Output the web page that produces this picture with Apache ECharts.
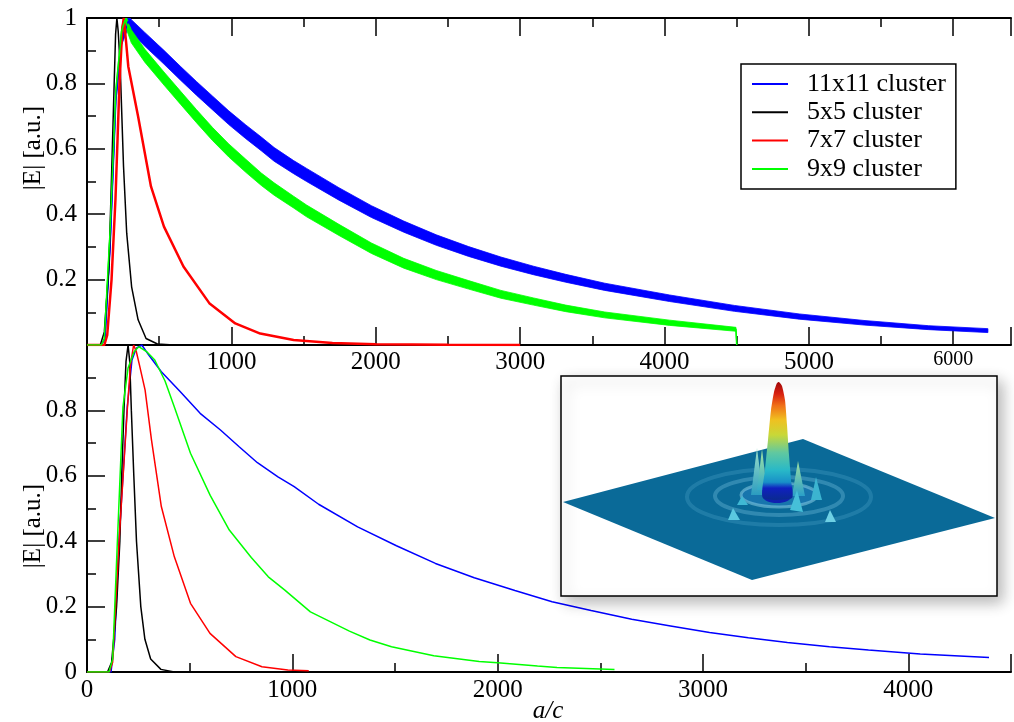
<!DOCTYPE html>
<html>
<head>
<meta charset="utf-8">
<script src="https://cdn.jsdelivr.net/npm/echarts@6/dist/echarts.min.js"></script>
<style>html,body{margin:0;padding:0;background:#fff;}#c{width:1014px;height:722px;}</style>
</head>
<body>
<div id="c"></div>
<script>
// ---------- data ----------
const seriesNames = ['11x11 cluster', '5x5 cluster', '7x7 cluster', '9x9 cluster'];
const topXTicks = [1000, 2000, 3000, 4000, 5000, 6000];
const bottomXTicks = [0, 1000, 2000, 3000, 4000];

// top panel (long runs, oscillating bands: centre value and half-height of the ripple)
const blueTopX = [0, 100, 125, 160, 200, 240, 286, 307, 400, 533, 650, 758, 870, 982, 1100, 1207, 1296, 1431, 1521, 1745, 1970, 2194, 2419, 2643, 2867, 3092, 3316, 3586, 4035, 4484, 4933, 5382, 5830, 6240];
const blueTopY = [0, 0, 0.02, 0.3, 0.75, 0.93, 0.99, 0.975, 0.935, 0.88, 0.83, 0.785, 0.74, 0.695, 0.652, 0.615, 0.583, 0.544, 0.52, 0.462, 0.408, 0.362, 0.321, 0.286, 0.255, 0.228, 0.204, 0.178, 0.143, 0.112, 0.087, 0.068, 0.053, 0.044];
const blueTopRipple = [0, 0, 0, 0, 0.005, 0.012, 0.018, 0.02, 0.021, 0.021, 0.021, 0.021, 0.021, 0.021, 0.021, 0.021, 0.021, 0.02, 0.02, 0.019, 0.018, 0.017, 0.016, 0.015, 0.014, 0.013, 0.012, 0.011, 0.01, 0.009, 0.008, 0.007, 0.006, 0.006];

const greenTopX = [0, 100, 120, 160, 200, 240, 264, 307, 400, 533, 650, 758, 870, 982, 1100, 1207, 1296, 1431, 1521, 1745, 1970, 2194, 2419, 2643, 2867, 3092, 3316, 3586, 4035, 4495, 4500];
const greenTopY = [0, 0, 0.02, 0.35, 0.78, 0.96, 0.995, 0.944, 0.885, 0.815, 0.755, 0.7, 0.645, 0.595, 0.548, 0.507, 0.477, 0.437, 0.41, 0.352, 0.296, 0.25, 0.214, 0.184, 0.155, 0.133, 0.112, 0.092, 0.068, 0.048, 0];
const greenTopRipple = [0, 0, 0, 0, 0.005, 0.012, 0.018, 0.02, 0.02, 0.02, 0.02, 0.02, 0.02, 0.02, 0.02, 0.019, 0.019, 0.018, 0.018, 0.017, 0.016, 0.015, 0.014, 0.013, 0.012, 0.011, 0.01, 0.009, 0.008, 0.006, 0];

const redTopX = [0, 120, 140, 170, 197, 225, 245, 255, 270, 286, 354, 443, 533, 668, 847, 1027, 1200, 1431, 1700, 2000, 2500, 3000];
const redTopY = [0, 0, 0.03, 0.2, 0.444, 0.8, 0.97, 1.0, 0.93, 0.852, 0.699, 0.485, 0.362, 0.24, 0.128, 0.066, 0.035, 0.015, 0.006, 0.002, 0.0005, 0];

const blackTopX = [0, 92, 120, 152, 185, 198, 207, 216, 230, 253, 275, 309, 354, 409, 488, 600];
const blackTopY = [0, 0, 0.04, 0.24, 0.75, 0.95, 1.0, 0.96, 0.852, 0.546, 0.342, 0.178, 0.077, 0.02, 0.003, 0];

// bottom panel (smooth envelopes)
const blueBotX = [0, 117, 135, 156, 196, 219, 240, 267, 300, 362, 450, 551, 650, 741, 830, 930, 1009, 1128, 1318, 1507, 1697, 1886, 2084, 2265, 2455, 2653, 2842, 3032, 3221, 3411, 3616, 3806, 4058, 4393];
const blueBotY = [0, 0, 0.1, 0.404, 0.81, 0.954, 0.99, 1.0, 0.97, 0.918, 0.86, 0.791, 0.74, 0.689, 0.64, 0.597, 0.567, 0.513, 0.444, 0.386, 0.332, 0.288, 0.249, 0.215, 0.188, 0.161, 0.141, 0.121, 0.105, 0.09, 0.077, 0.067, 0.055, 0.044];

const blackBotX = [0, 100, 120, 144, 160, 169, 180, 190, 200, 208, 216, 228, 241, 262, 282, 310, 360, 425, 500];
const blackBotY = [0, 0, 0.03, 0.2, 0.4, 0.6, 0.8, 0.95, 1.0, 0.95, 0.8, 0.6, 0.4, 0.2, 0.1, 0.04, 0.008, 0, 0];

const redBotX = [0, 109, 125, 156, 196, 212, 227, 240, 255, 283, 314, 362, 425, 504, 599, 725, 852, 978, 1080];
const redBotY = [0, 0, 0.03, 0.4, 0.8, 0.94, 1.0, 0.98, 0.94, 0.862, 0.71, 0.506, 0.353, 0.21, 0.118, 0.047, 0.016, 0.006, 0.004];

const greenBotX = [0, 107, 125, 148, 175, 200, 230, 252, 290, 330, 380, 425, 504, 600, 693, 800, 883, 962, 1088, 1278, 1378, 1483, 1689, 1910, 2000, 2194, 2289, 2569];
const greenBotY = [0, 0, 0.04, 0.4, 0.81, 0.93, 0.98, 0.995, 0.98, 0.954, 0.89, 0.811, 0.669, 0.54, 0.434, 0.35, 0.291, 0.251, 0.184, 0.125, 0.098, 0.077, 0.05, 0.032, 0.028, 0.018, 0.014, 0.008];

// ---------- build ----------
const BLUE = '#0000ff', BLACK = '#000000', RED = '#ff0000', GREEN = '#00ff00';
const FONT = '"Liberation Serif", "DejaVu Serif", serif';
const pairs = (xs, ys) => xs.map((x, i) => [x, ys[i]]);

function line(name, data, color, w, xi, yi) {
  return {
    name: name, type: 'line', data: data, xAxisIndex: xi, yAxisIndex: yi,
    symbol: 'none', showSymbol: false, silent: true, animation: false,
    color: color, lineStyle: { color: color, width: w }, z: 3
  };
}
// ripple band drawn through the axes' own coordinate mapping
function band(key, xs, ys, rs, color, xi, yi) {
  return {
    name: key, type: 'custom', xAxisIndex: xi, yAxisIndex: yi, silent: true, clip: true, z: 2,
    data: [[xs[0], ys[0]]],
    renderItem: function (params, api) {
      const pts = [];
      for (let i = 0; i < xs.length; i++) pts.push(api.coord([xs[i], Math.min(1.02, ys[i] + rs[i])]));
      for (let i = xs.length - 1; i >= 0; i--) pts.push(api.coord([xs[i], Math.max(0, ys[i] - rs[i])]));
      return { type: 'polygon', shape: { points: pts }, style: { fill: color, stroke: color, lineWidth: 0.8 } };
    }
  };
}

const axisCommon = {
  type: 'value', min: 0,
  axisLine: { show: true, lineStyle: { color: '#000', width: 2 } },
  axisTick: { show: true, inside: true, length: 18, lineStyle: { color: '#000', width: 1.5 } },
  minorTick: { show: true, splitNumber: 2, length: 9, lineStyle: { color: '#000', width: 1.5 } },
  splitLine: { show: false }, minorSplitLine: { show: false }
};
const labelStyle = { color: '#000', fontFamily: FONT, fontSize: 25 };

const option = {
  backgroundColor: '#fff',
  animation: false,
  grid: [
    { left: 87, top: 18, width: 950.4, height: 327, containLabel: false },
    { left: 87, top: 345, width: 949.5, height: 327, containLabel: false }
  ],
  xAxis: [
    Object.assign({}, axisCommon, {
      gridIndex: 0, position: 'bottom', max: 6400, interval: 1000,
      axisLabel: Object.assign({}, labelStyle, {
        margin: 5,
        formatter: v => (topXTicks.indexOf(v) < 0 ? '' : (v === 6000 ? '{s|6000}' : String(v))),
        rich: { s: { fontSize: 20, fontFamily: FONT, color: '#000' } }
      })
    }),
    Object.assign({}, axisCommon, {
      gridIndex: 0, position: 'top', max: 6400, interval: 1000, axisLabel: { show: false }
    }),
    Object.assign({}, axisCommon, {
      gridIndex: 1, position: 'bottom', max: 4500, interval: 1000,
      axisLabel: Object.assign({}, labelStyle, {
        margin: 6,
        formatter: v => (bottomXTicks.indexOf(v) < 0 ? '' : String(v))
      })
    })
  ],
  yAxis: [
    Object.assign({}, axisCommon, {
      gridIndex: 0, max: 1, interval: 0.2,
      axisLabel: Object.assign({}, labelStyle, {
        margin: 10,
        formatter: v => (v < 0.05 ? '' : (v > 0.95 ? '1' : v.toFixed(1)))
      })
    }),
    Object.assign({}, axisCommon, {
      gridIndex: 1, max: 1, interval: 0.2,
      axisLabel: Object.assign({}, labelStyle, {
        margin: 10,
        formatter: v => (v > 0.95 ? '' : (v < 0.05 ? '0' : v.toFixed(1)))
      })
    })
  ],
  legend: {
    data: seriesNames,
    orient: 'vertical',
    left: 741, top: 64,
    padding: [7, 10, 7, 11],
    itemGap: 2.3,
    itemWidth: 36, itemHeight: 2,
    icon: 'rect',
    borderColor: '#000', borderWidth: 1.5, borderRadius: 0,
    backgroundColor: '#fff',
    selectedMode: false,
    textStyle: { color: '#000', fontFamily: FONT, fontSize: 26, lineHeight: 25, padding: [0, 0, 0, 14] }
  },
  series: [
    band('blueRipple', blueTopX, blueTopY, blueTopRipple, BLUE, 0, 0),
    line(seriesNames[0], pairs(blueTopX, blueTopY), BLUE, 1.5, 0, 0),
    line(seriesNames[1], pairs(blackTopX, blackTopY), BLACK, 1.5, 0, 0),
    line(seriesNames[2], pairs(redTopX, redTopY), RED, 2.5, 0, 0),
    band('greenRipple', greenTopX, greenTopY, greenTopRipple, GREEN, 0, 0),
    line(seriesNames[3], pairs(greenTopX, greenTopY), GREEN, 1.5, 0, 0),
    line(seriesNames[0], pairs(blueBotX, blueBotY), BLUE, 1.5, 2, 1),
    line(seriesNames[1], pairs(blackBotX, blackBotY), BLACK, 1.5, 2, 1),
    line(seriesNames[2], pairs(redBotX, redBotY), RED, 1.5, 2, 1),
    line(seriesNames[3], pairs(greenBotX, greenBotY), GREEN, 1.5, 2, 1)
  ],
  graphic: [
    { type: 'text', x: 33, y: 148, rotation: Math.PI / 2, z: 50,
      style: { text: '|E| [a.u.]', font: '25px ' + FONT, fill: '#000', align: 'center', verticalAlign: 'middle' } },
    { type: 'text', x: 33, y: 526, rotation: Math.PI / 2, z: 50,
      style: { text: '|E| [a.u.]', font: '25px ' + FONT, fill: '#000', align: 'center', verticalAlign: 'middle' } },
    { type: 'text', x: 548, y: 711, z: 50,
      style: { text: 'a/c', font: 'italic 25px ' + FONT, fill: '#000', align: 'center', verticalAlign: 'middle' } },
    // inset picture (decorative 3D field plot)
    { type: 'group', z: 100, children: [
      { type: 'rect', shape: { x: 561, y: 376, width: 436, height: 220 }, z: 100,
        style: { fill: '#fff', stroke: '#000', lineWidth: 1.5, shadowBlur: 14, shadowColor: 'rgba(0,0,0,0.28)', shadowOffsetX: 5, shadowOffsetY: 6 } },
      { type: 'polygon', z: 101, shape: { points: [[563, 502], [803, 439], [995, 518], [752, 580]] },
        style: { fill: '#0a6a98' } },
      { type: 'ellipse', z: 102, shape: { cx: 779, cy: 497, rx: 92, ry: 28 },
        style: { fill: 'none', stroke: 'rgba(110,190,225,0.22)', lineWidth: 4 } },
      { type: 'ellipse', z: 102, shape: { cx: 779, cy: 496, rx: 64, ry: 19 },
        style: { fill: 'none', stroke: 'rgba(140,210,235,0.3)', lineWidth: 4 } },
      { type: 'ellipse', z: 102, shape: { cx: 779, cy: 495, rx: 38, ry: 12 },
        style: { fill: 'rgba(40,130,200,0.45)', stroke: 'rgba(160,225,240,0.45)', lineWidth: 3 } },
      { type: 'polygon', z: 103, shape: { points: [[751, 495], [757, 448], [763, 495]] },
        style: { fill: new echarts.graphic.LinearGradient(0, 0, 0, 1, [{ offset: 0, color: '#9fe0c8' }, { offset: 1, color: '#2a9cc0' }]) } },
      { type: 'polygon', z: 103, shape: { points: [[757, 490], [762, 449], [767, 490]] },
        style: { fill: new echarts.graphic.LinearGradient(0, 0, 0, 1, [{ offset: 0, color: '#a8e6a0' }, { offset: 1, color: '#30a8c8' }]) } },
      { type: 'polygon', z: 103, shape: { points: [[792, 496], [798, 461], [805, 496]] },
        style: { fill: new echarts.graphic.LinearGradient(0, 0, 0, 1, [{ offset: 0, color: '#a0e0a0' }, { offset: 1, color: '#2aa0c8' }]) } },
      { type: 'polygon', z: 103, shape: { points: [[811, 500], [816, 477], [822, 500]] },
        style: { fill: '#3cb4d0' } },
      { type: 'polygon', z: 103, shape: { points: [[737, 505], [742, 496], [748, 505]] },
        style: { fill: '#40b8d4' } },
      { type: 'polygon', z: 103, shape: { points: [[790, 510], [797, 490], [803, 512]] },
        style: { fill: '#46c0d8' } },
      { type: 'polygon', z: 103, shape: { points: [[728, 520], [733, 508], [740, 520]] },
        style: { fill: '#5ac8e0' } },
      { type: 'polygon', z: 103, shape: { points: [[825, 522], [830, 510], [836, 522]] },
        style: { fill: '#6ed0e4' } },
      { type: 'ellipse', z: 104, shape: { cx: 777, cy: 497, rx: 14, ry: 6 },
        style: { fill: '#1020b0' } },
      { type: 'polygon', z: 105,
        shape: { points: [[763, 498], [765, 470], [768, 440], [771, 410], [774, 392], [777, 383], [779, 382], [782, 386], [785, 400], [787, 425], [789, 455], [791, 480], [792, 498]], smooth: 0.2 },
        style: { fill: new echarts.graphic.LinearGradient(0, 0, 0, 1, [
          { offset: 0, color: '#a00808' }, { offset: 0.1, color: '#d82010' }, { offset: 0.2, color: '#f07018' },
          { offset: 0.32, color: '#f0c020' }, { offset: 0.45, color: '#c8d838' }, { offset: 0.6, color: '#60c8a0' },
          { offset: 0.75, color: '#28b8c8' }, { offset: 0.85, color: '#1890c8' }, { offset: 0.9, color: '#1020c0' }, { offset: 1, color: '#0a2a90' }]) } }
    ] }
  ]
};

const chart = echarts.init(document.getElementById('c'), null, { renderer: 'canvas', width: 1014, height: 722 });
chart.setOption(option);
</script>
</body>
</html>
